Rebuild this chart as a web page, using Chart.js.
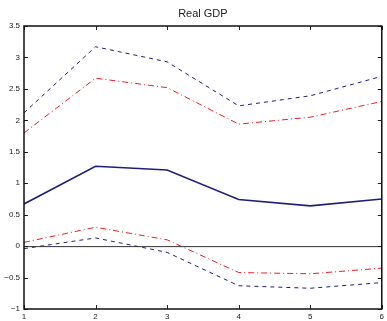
<!DOCTYPE html>
<html>
<head>
<meta charset="utf-8">
<script src="https://cdn.jsdelivr.net/npm/chart.js@4.4.0/dist/chart.umd.min.js"></script>
<style>
  html, body { margin: 0; padding: 0; background: #fff; }
  #wrap { width: 387px; height: 321px; }
</style>
</head>
<body>
<div id="wrap"><canvas id="gdpChart" width="387" height="321"></canvas></div>
<script>
const periods = [1, 2, 3, 4, 5, 6];
const response = [0.67, 1.27, 1.21, 0.74, 0.64, 0.75];
const upperBlue = [2.12, 3.17, 2.93, 2.23, 2.39, 2.70];
const upperRed = [1.80, 2.67, 2.52, 1.94, 2.05, 2.30];
const lowerRed = [0.06, 0.30, 0.10, -0.42, -0.44, -0.35];
const lowerBlue = [-0.04, 0.13, -0.10, -0.63, -0.67, -0.58];
const yTicks = [-1, -0.5, 0, 0.5, 1, 1.5, 2, 2.5, 3, 3.5];

const navy = '#1f1f7a';
const red = '#e8202a';

function pts(vals) {
  return periods.map((p, i) => ({ x: p, y: vals[i] }));
}

// MATLAB-like frame: box, inward ticks, zero line, title
const framePlugin = {
  id: 'frame',
  afterDatasetsDraw(chart) {
    const { ctx, chartArea: a, scales } = chart;
    ctx.save();
    // zero line
    const y0 = scales.y.getPixelForValue(0);
    ctx.strokeStyle = '#333';
    ctx.lineWidth = 1;
    ctx.beginPath();
    ctx.moveTo(a.left, y0 + 0.5);
    ctx.lineTo(a.right, y0 + 0.5);
    ctx.stroke();
    // ticks inward
    ctx.strokeStyle = '#222';
    const len = 4;
    periods.forEach(p => {
      const x = Math.round(scales.x.getPixelForValue(p)) + 0.5;
      ctx.beginPath();
      ctx.moveTo(x, a.bottom); ctx.lineTo(x, a.bottom - len);
      ctx.moveTo(x, a.top); ctx.lineTo(x, a.top + len);
      ctx.stroke();
    });
    yTicks.forEach(v => {
      const y = Math.round(scales.y.getPixelForValue(v)) + 0.5;
      ctx.beginPath();
      ctx.moveTo(a.left, y); ctx.lineTo(a.left + len, y);
      ctx.moveTo(a.right, y); ctx.lineTo(a.right - len, y);
      ctx.stroke();
    });
    // box
    ctx.strokeStyle = '#111';
    ctx.lineWidth = 1.5;
    ctx.strokeRect(a.left, a.top, a.right - a.left, a.bottom - a.top);
    // title
    ctx.fillStyle = '#222';
    ctx.font = '11px "Liberation Sans", Arial, sans-serif';
    ctx.textAlign = 'center';
    ctx.textBaseline = 'middle';
    ctx.fillText('Real GDP', (a.left + a.right) / 2, 14);
    ctx.restore();
  }
};

const ctx = document.getElementById('gdpChart').getContext('2d');
new Chart(ctx, {
  type: 'line',
  data: {
    datasets: [
      { data: pts(upperBlue), borderColor: navy, borderWidth: 1, borderDash: [4, 4] },
      { data: pts(upperRed), borderColor: red, borderWidth: 1, borderDash: [6, 3, 1, 3] },
      { data: pts(response), borderColor: navy, borderWidth: 1.6 },
      { data: pts(lowerRed), borderColor: red, borderWidth: 1, borderDash: [6, 3, 1, 3] },
      { data: pts(lowerBlue), borderColor: navy, borderWidth: 1, borderDash: [4, 4] }
    ]
  },
  options: {
    responsive: false,
    animation: false,
    elements: { point: { radius: 0 }, line: { tension: 0 } },
    layout: { padding: { top: 26, right: 4, left: 0, bottom: 0 } },
    plugins: { legend: { display: false }, title: { display: false }, tooltip: { enabled: false } },
    scales: {
      x: {
        type: 'linear',
        min: 1,
        max: 6,
        afterBuildTicks: s => { s.ticks = periods.map(v => ({ value: v })); },
        afterFit: s => { s.height = 12; },
        grid: { display: false, drawTicks: false },
        border: { display: false },
        ticks: { padding: 3, color: '#222', font: { size: 8, family: '"Liberation Sans", Arial, sans-serif' },
          callback: v => String(v) }
      },
      y: {
        min: -1,
        max: 3.5,
        afterBuildTicks: s => { s.ticks = yTicks.map(v => ({ value: v })); },
        afterFit: s => { s.width = 24; },
        grid: { display: false, drawTicks: false },
        border: { display: false },
        ticks: { padding: 4, color: '#222', font: { size: 8, family: '"Liberation Sans", Arial, sans-serif' },
          callback: v => String(v).replace('-', '\u2212') }
      }
    }
  },
  plugins: [framePlugin]
});
</script>
</body>
</html>
